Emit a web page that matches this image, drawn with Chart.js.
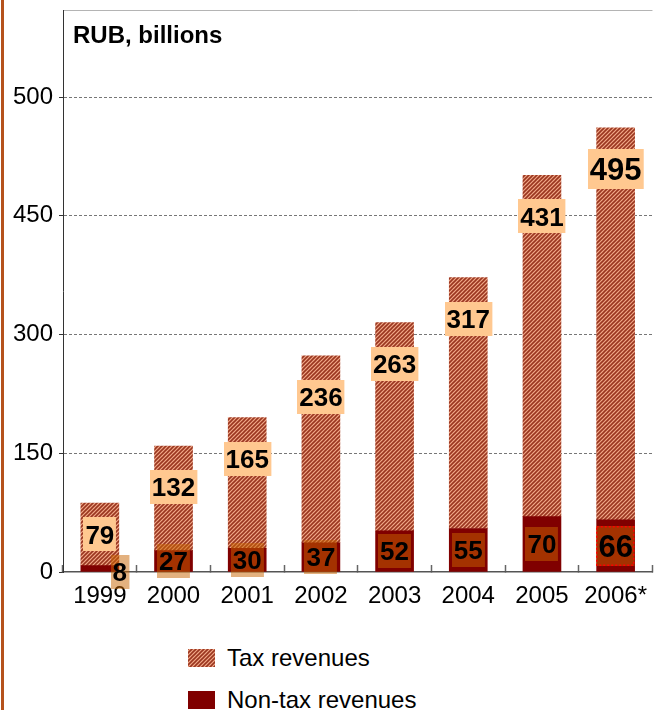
<!DOCTYPE html>
<html>
<head>
<meta charset="utf-8">
<script src="https://cdn.jsdelivr.net/npm/chart.js@4/dist/chart.umd.min.js"></script>
<style>
  html, body { margin: 0; padding: 0; background: #fff; width: 664px; height: 710px; overflow: hidden; }
  #edge { position: absolute; left: 1px; top: 0; width: 3px; height: 710px; background: #b5521c; }
  #plot { position: absolute; left: 0; top: 0; width: 664px; height: 625px; }
  #legend { position: absolute; left: 188px; top: 0; font-family: "Liberation Sans", Arial, sans-serif; font-size: 24px; color: #000; }
  .item { position: absolute; left: 0; display: flex; align-items: center; height: 26px; white-space: nowrap; }
  .item canvas { display: block; width: 27px; height: 18px; margin-right: 12px; }
</style>
</head>
<body>
<div id="edge"></div>
<div id="plot"><canvas id="chart"></canvas></div>
<div id="legend"></div>
<script>
// Federal budget revenues by year, RUB billions
const years = ['1999', '2000', '2001', '2002', '2003', '2004', '2005', '2006*'];
const taxRevenue = [79, 132, 165, 236, 263, 317, 431, 495];
const nonTaxRevenue = [8, 27, 30, 37, 52, 55, 70, 66];

// value axis: gridline positions and the labels printed beside them
const yTickValues = [0, 150, 300, 450, 600];
const yTickLabels = ['0', '150', '300', '450', '500'];
const yMax = 710;

const FONT = '"Liberation Sans", Arial, sans-serif';
const HATCH_DARK = '#9a3620';
const HATCH_LIGHT = '#f0a888';
const NONTAX_COLOR = '#800000';

function makeHatch(ctx) {
  const c = document.createElement('canvas');
  c.width = c.height = 4;
  const g = c.getContext('2d');
  g.fillStyle = HATCH_LIGHT;
  g.fillRect(0, 0, 4, 4);
  g.strokeStyle = HATCH_DARK;
  g.lineWidth = 1.6;
  g.beginPath();
  g.moveTo(-1, 5); g.lineTo(5, -1);
  g.moveTo(-1, 1); g.lineTo(1, -1);
  g.moveTo(3, 5); g.lineTo(5, 3);
  g.stroke();
  return ctx.createPattern(c, 'repeat');
}

const canvas = document.getElementById('chart');
const hatch = makeHatch(canvas.getContext('2d'));

function drawTag(ctx, text, cx, cy, size, fill, outline) {
  ctx.font = 'bold ' + size + 'px ' + FONT;
  const w = ctx.measureText(text).width + 4;
  const h = Math.round(size * 1.3);
  const x = Math.round(cx - w / 2), y = Math.round(cy - h / 2);
  ctx.fillStyle = fill;
  ctx.fillRect(x, y, w, h);
  if (outline) {
    ctx.save();
    ctx.strokeStyle = outline;
    ctx.lineWidth = 1.5;
    ctx.setLineDash([2, 2]);
    ctx.strokeRect(x + 0.75, y + 0.75, w - 1.5, h - 1.5);
    ctx.restore();
  }
  ctx.fillStyle = '#000';
  ctx.textAlign = 'center';
  ctx.textBaseline = 'alphabetic';
  ctx.fillText(text, cx, cy + size * 0.716 / 2);
}

// value tags on each bar segment, plus the unit caption
const valueTags = {
  id: 'valueTags',
  afterDatasetsDraw(chart) {
    const ctx = chart.ctx;
    const nonMeta = chart.getDatasetMeta(0);
    const taxMeta = chart.getDatasetMeta(1);
    const last = years.length - 1;
    ctx.save();
    years.forEach((yr, i) => {
      const size = i === last ? 31 : 26;
      const t = taxMeta.data[i];
      const tTop = Math.min(t.y, t.base), tBot = Math.max(t.y, t.base);
      const ty = Math.min(tTop + 41, (tTop + tBot) / 2);
      drawTag(ctx, String(taxRevenue[i]), t.x, ty, size, '#ffc890', null);

      const n = nonMeta.data[i];
      const nTop = Math.min(n.y, n.base), nBot = Math.max(n.y, n.base);
      let nx = n.x, ny = (nTop + nBot) / 2;
      if (nBot - nTop < 20) { nx += 20; ny = nBot; }
      drawTag(ctx, String(nonTaxRevenue[i]), nx, ny, size, 'rgba(200,100,0,0.5)', i === last ? '#ff0000' : null);
    });
    ctx.restore();
  },
  afterDraw(chart) {
    const ctx = chart.ctx;
    ctx.save();
    ctx.font = 'bold 24px ' + FONT;
    ctx.fillStyle = '#000';
    ctx.textAlign = 'left';
    ctx.textBaseline = 'alphabetic';
    ctx.fillText('RUB, billions', chart.chartArea.left + 10, 43);
    ctx.restore();
  }
};

const chart = new Chart(canvas, {
  type: 'bar',
  data: {
    labels: years,
    datasets: [
      { label: 'Non-tax revenues', data: nonTaxRevenue, backgroundColor: NONTAX_COLOR, borderWidth: 0 },
      { label: 'Tax revenues', data: taxRevenue, backgroundColor: hatch, borderWidth: 0 }
    ]
  },
  options: {
    responsive: true,
    maintainAspectRatio: false,
    animation: false,
    layout: { padding: { top: 10, left: 0, right: 0, bottom: 0 } },
    datasets: { bar: { barThickness: 38 } },
    plugins: { legend: { display: false }, tooltip: { enabled: false } },
    scales: {
      x: {
        stacked: true,
        offset: true,
        grid: { offset: true, drawOnChartArea: false, drawTicks: true, tickLength: -7, tickColor: '#666', tickWidth: 1.5 },
        border: { display: true, color: '#555', width: 1.5 },
        ticks: { color: '#000', font: { family: FONT, size: 24 }, padding: 17, maxRotation: 0, autoSkip: false },
        afterFit(scale) { scale.height = 53; }
      },
      y: {
        stacked: true,
        min: 0,
        max: yMax,
        afterBuildTicks(scale) {
          scale.ticks = yTickValues.concat([yMax]).map(v => ({ value: v }));
        },
        ticks: {
          color: '#000',
          font: { family: FONT, size: 24 },
          padding: 6,
          callback(v) {
            const k = yTickValues.indexOf(v);
            return k < 0 ? '' : yTickLabels[k];
          }
        },
        grid: {
          color: c => c.tick && c.tick.value === yMax ? '#b4b4b4' : (c.tick && c.tick.value === 0 ? 'rgba(0,0,0,0)' : '#777'),
          lineWidth: 1,
          tickLength: 4,
          tickColor: c => c.tick && c.tick.value === yMax ? 'rgba(0,0,0,0)' : '#333'
        },
        border: {
          display: true, color: '#333', width: 1,
          dash: c => c.tick && c.tick.value === yMax ? [] : [3, 2]
        },
        afterFit(scale) { scale.width = 63; scale.paddingTop = 0; scale.paddingBottom = 0; }
      }
    }
  },
  plugins: [valueTags]
});

// legend below the plot, tax first
const legend = document.getElementById('legend');
[chart.data.datasets[1], chart.data.datasets[0]].forEach((ds, i) => {
  const row = document.createElement('div');
  row.className = 'item';
  row.style.top = (645 + i * 42) + 'px';
  const sw = document.createElement('canvas');
  sw.width = 27; sw.height = 18;
  const g = sw.getContext('2d');
  g.fillStyle = ds === chart.data.datasets[1] ? makeHatch(g) : ds.backgroundColor;
  g.fillRect(0, 0, 27, 18);
  const label = document.createElement('span');
  label.textContent = ds.label;
  row.appendChild(sw);
  row.appendChild(label);
  legend.appendChild(row);
});
</script>
</body>
</html>
